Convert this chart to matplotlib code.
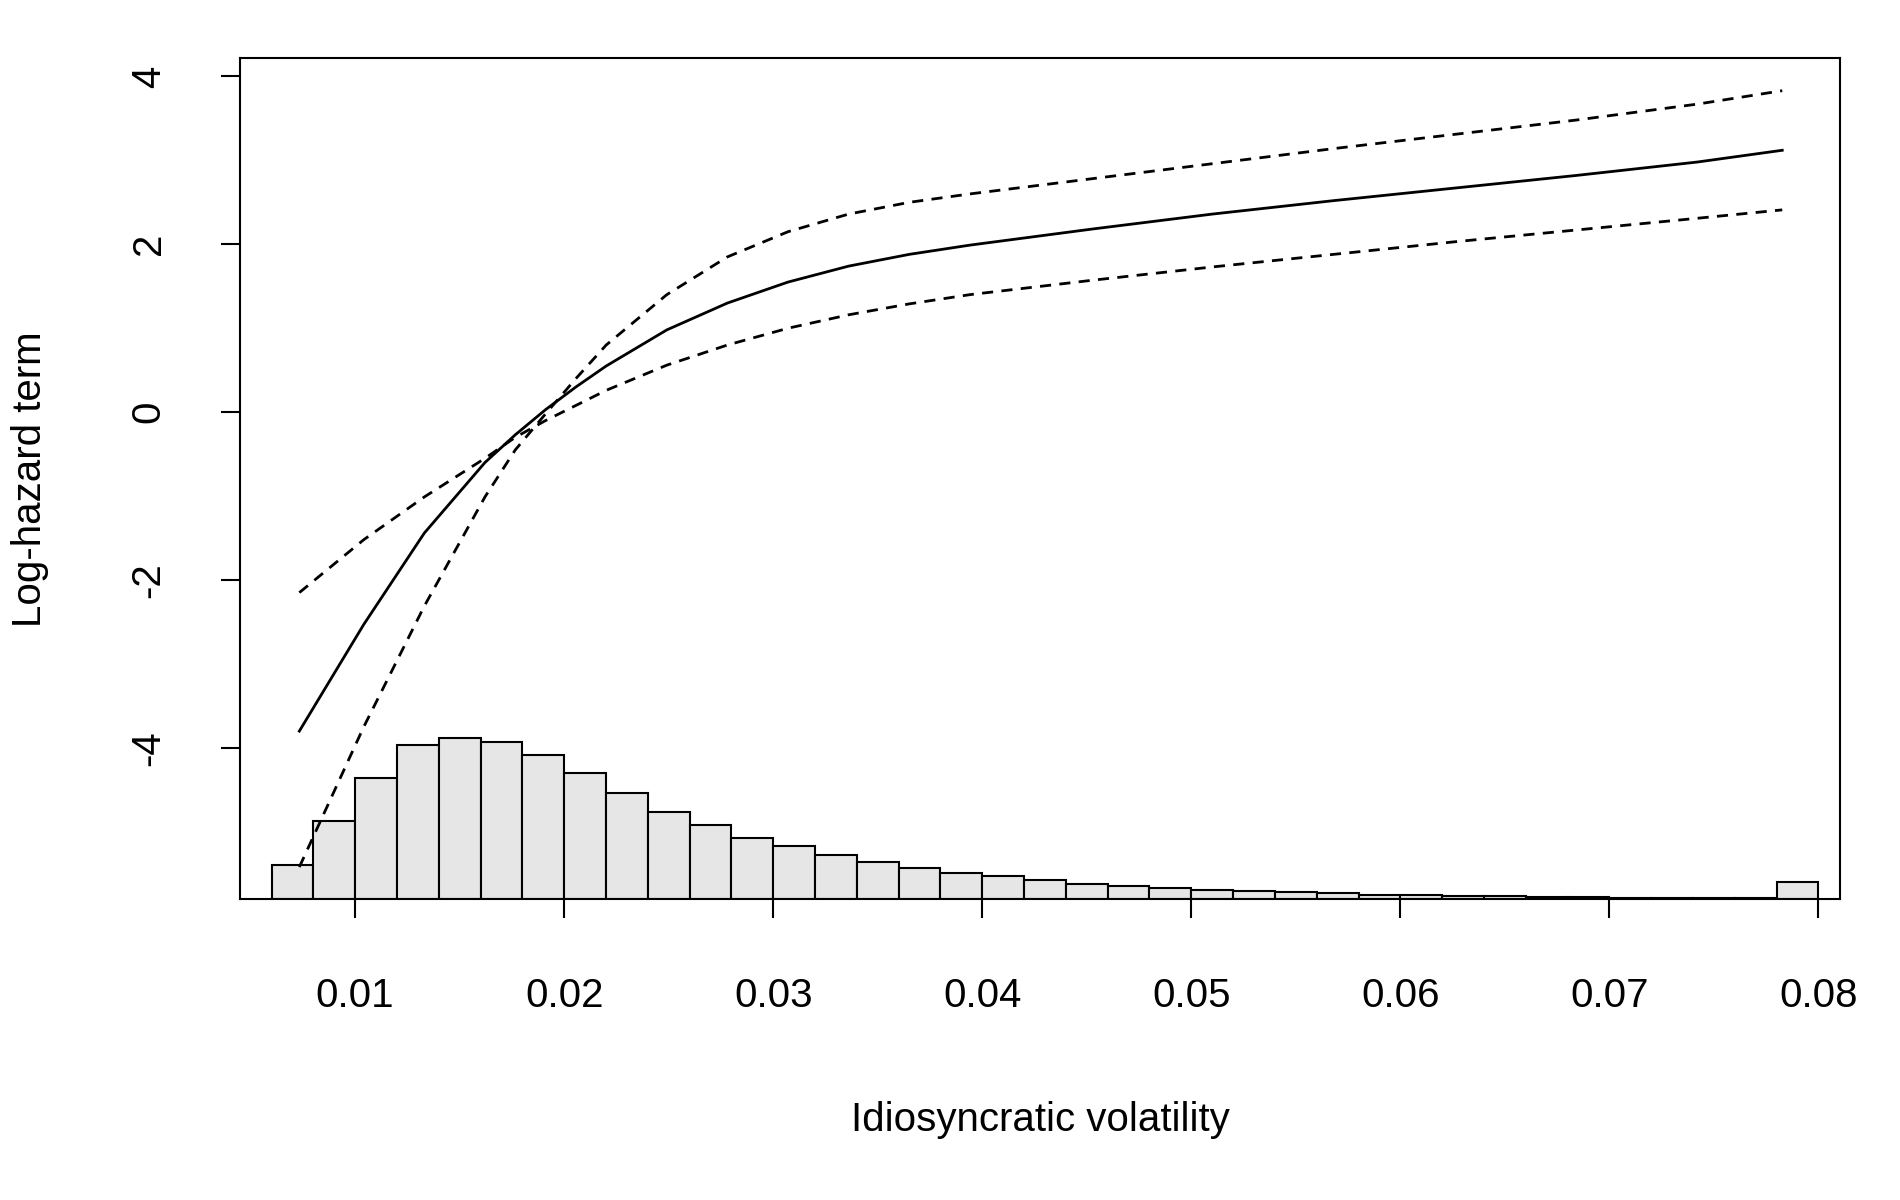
import matplotlib.pyplot as plt
import numpy as np

plt.rcParams['font.family'] = ['Liberation Sans', 'DejaVu Sans']

# fitted curve and confidence band
vol = [0.00733, 0.01041, 0.01331, 0.01621, 0.01766, 0.01911, 0.02056, 0.02201, 0.02491, 0.02781,
       0.03071, 0.03361, 0.03651, 0.03941, 0.04521, 0.05101, 0.05681, 0.06261, 0.06841, 0.07421,
       0.07827]
fit = [-3.80, -2.53, -1.44, -0.60, -0.27, 0.03, 0.30, 0.55, 0.98, 1.30,
       1.55, 1.74, 1.88, 1.99, 2.18, 2.36, 2.52, 2.67, 2.82, 2.98, 3.12]
band_a = [-5.42, -3.75, -2.31, -1.01, -0.45, -0.02, 0.40, 0.80, 1.40, 1.85,
          2.15, 2.36, 2.50, 2.60, 2.78, 2.96, 3.14, 3.31, 3.48, 3.67, 3.83]
band_b = [-2.15, -1.52, -1.01, -0.55, -0.30, -0.10, 0.08, 0.26, 0.56, 0.80,
          1.00, 1.16, 1.29, 1.40, 1.57, 1.73, 1.88, 2.03, 2.17, 2.31, 2.41]

# histogram of volatility (relative counts), bins of width 0.002 from 0.006
bin_edges = np.arange(0.006, 0.0801, 0.002)
counts = [28, 65, 100, 127, 133, 130, 119, 104, 88, 72, 61, 51, 44, 37, 31, 26, 22, 19, 16,
          13, 11, 9, 8, 7, 6, 5, 4, 3.5, 3, 2.5, 2, 2, 1.5, 1, 1, 1, 14]

ymin, ymax = -5.805, 4.217
fig = plt.figure(figsize=(19, 12), dpi=100)
ax = fig.add_axes([0.1263, 0.2505, 0.8422, 0.701])

ax.bar(bin_edges[:-1], np.array(counts) / 69.25, width=0.002, bottom=ymin, align='edge',
       color='#e6e6e6', edgecolor='black', linewidth=1.5, zorder=1)
ax.plot(vol, fit, color='black', lw=2, zorder=3)
ax.plot(vol, band_a, color='black', lw=2, ls=(0, (4, 3)), zorder=3)
ax.plot(vol, band_b, color='black', lw=2, ls=(0, (4, 3)), zorder=3)

ax.set_xlim(0.00449, 0.08104)
ax.set_ylim(ymin, ymax)
ax.set_xticks([0.01, 0.02, 0.03, 0.04, 0.05, 0.06, 0.07, 0.08])
ax.set_xticklabels(['0.01', '0.02', '0.03', '0.04', '0.05', '0.06', '0.07', '0.08'])
ax.set_yticks([-4, -2, 0, 2, 4])
ax.set_yticklabels(['-4', '-2', '0', '2', '4'], rotation=90, va='center')
ax.tick_params(direction='out', length=14, width=1.5, labelsize=29)
ax.tick_params(axis='x', pad=42)
ax.tick_params(axis='y', pad=38)
for s in ax.spines.values():
    s.set_linewidth(1.5)

ax.set_xlabel('Idiosyncratic volatility', fontsize=29, labelpad=62)
ax.set_ylabel('Log-hazard term', fontsize=29, labelpad=58)

fig.savefig('out.png')
